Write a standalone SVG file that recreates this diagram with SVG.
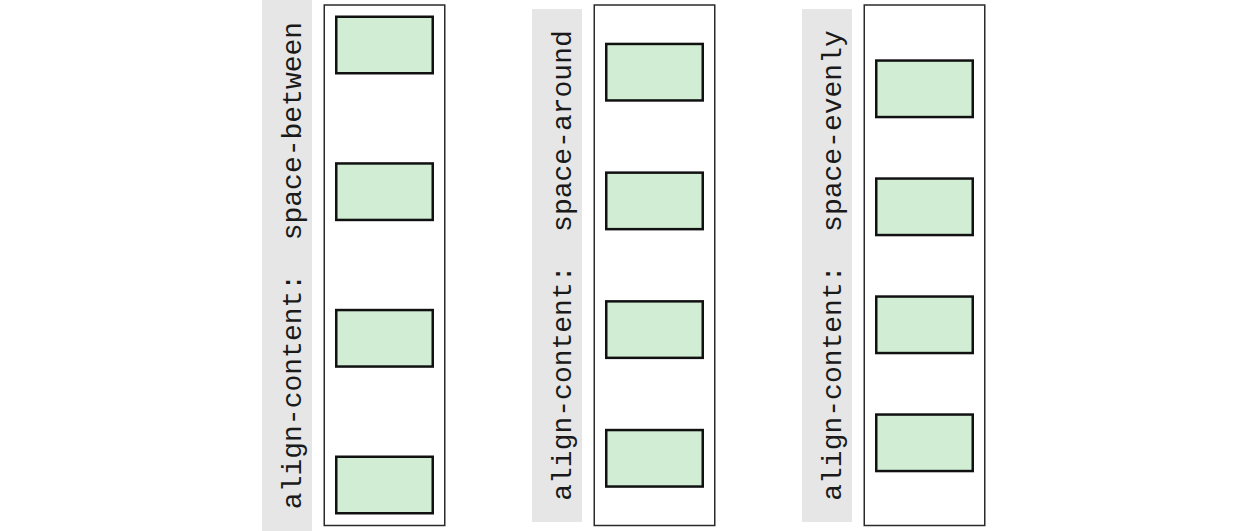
<svg xmlns="http://www.w3.org/2000/svg" width="1249" height="531" viewBox="0 0 1249 531">
<style>
.bg{fill:#ffffff}
.label{fill:#e6e6e6}
.lt{font-family:"Liberation Mono","Courier New",monospace;font-size:28px;fill:#1a1a1a;text-anchor:middle;white-space:pre}
.cont{fill:#ffffff;stroke:#2a2a2a;stroke-width:1.5}
.item{fill:#d1eed4;stroke:#111111;stroke-width:2.5}
</style>
<rect class="bg" x="0" y="0" width="1249" height="531"/>
<g id="col-between">
<rect class="label" x="262" y="0" width="50" height="531"/>
<text class="lt" xml:space="preserve" transform="translate(301 265.5) rotate(-90)">align-content:  space-between</text>
<rect class="cont" x="324.25" y="5" width="120.5" height="520.5"/>
<g id="b1-1"><rect class="item" x="336.25" y="16.75" width="96.5" height="56.5"/></g>
<g id="b1-2"><rect class="item" x="336.25" y="163.45" width="96.5" height="56.5"/></g>
<g id="b1-3"><rect class="item" x="336.25" y="310.05" width="96.5" height="56.5"/></g>
<g id="b1-4"><rect class="item" x="336.25" y="456.75" width="96.5" height="56.5"/></g>
</g>
<g id="col-around">
<rect class="label" x="532" y="9" width="50" height="513"/>
<text class="lt" xml:space="preserve" transform="translate(571 265.5) rotate(-90)">align-content:  space-around</text>
<rect class="cont" x="594.25" y="5" width="120.5" height="520.5"/>
<g id="b2-1"><rect class="item" x="606.25" y="43.95" width="96.5" height="56.5"/></g>
<g id="b2-2"><rect class="item" x="606.25" y="172.65" width="96.5" height="56.5"/></g>
<g id="b2-3"><rect class="item" x="606.25" y="301.35" width="96.5" height="56.5"/></g>
<g id="b2-4"><rect class="item" x="606.25" y="430.05" width="96.5" height="56.5"/></g>
</g>
<g id="col-evenly">
<rect class="label" x="802" y="9" width="50" height="513"/>
<text class="lt" xml:space="preserve" transform="translate(841 265.5) rotate(-90)">align-content:  space-evenly</text>
<rect class="cont" x="864.25" y="5" width="120.5" height="520.5"/>
<g id="b3-1"><rect class="item" x="876.25" y="60.55" width="96.5" height="56.5"/></g>
<g id="b3-2"><rect class="item" x="876.25" y="178.55" width="96.5" height="56.5"/></g>
<g id="b3-3"><rect class="item" x="876.25" y="296.55" width="96.5" height="56.5"/></g>
<g id="b3-4"><rect class="item" x="876.25" y="414.55" width="96.5" height="56.5"/></g>
</g>
<g id="connectors"></g>
</svg>
